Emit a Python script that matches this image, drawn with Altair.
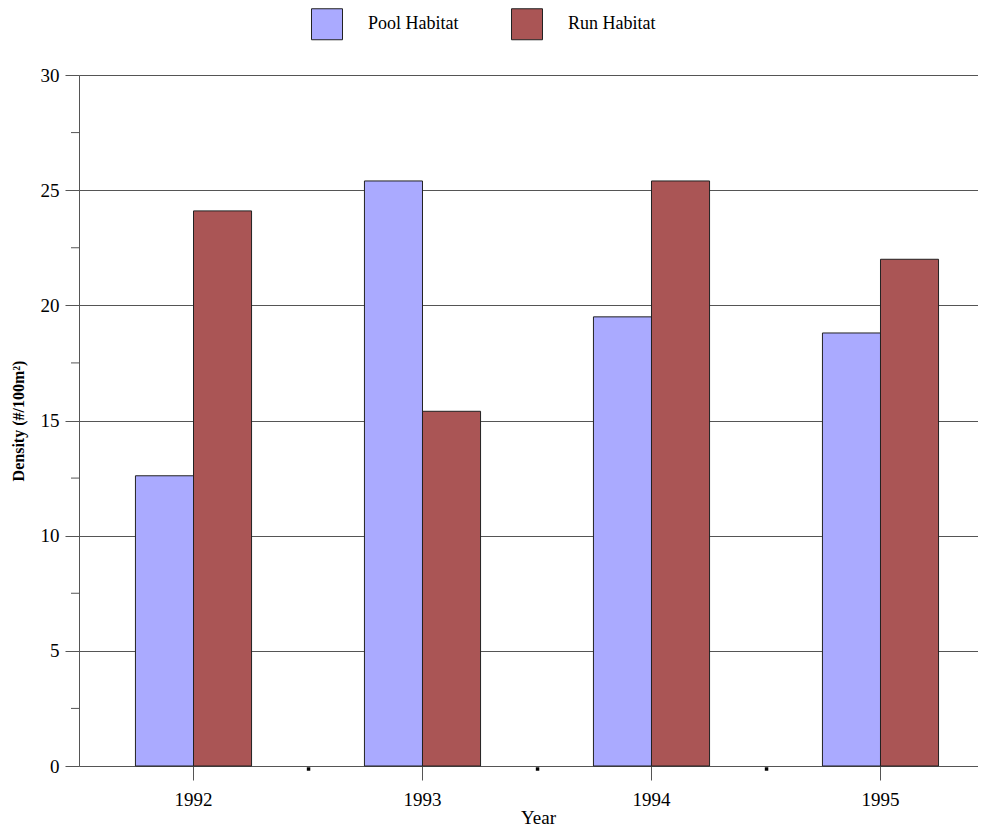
import altair as alt
import pandas as pd

years = ["1992", "1993", "1994", "1995"]
pool = [12.6, 25.4, 19.5, 18.8]
run = [24.1, 15.4, 25.4, 22.0]
series = ["Pool Habitat", "Run Habitat"]
colors = ["#AAAAFF", "#AA5555"]
minor_ticks = [2.5, 7.5, 12.5, 17.5, 22.5, 27.5]
boundary_years = ["1992", "1993", "1994"]

rows = []
for i, y in enumerate(years):
    rows.append({"year": y, "habitat": series[0], "value": pool[i]})
    rows.append({"year": y, "habitat": series[1], "value": run[i]})
df = pd.DataFrame(rows)

W, H = 899, 691
FONT = "Liberation Serif"
GRID = "#555555"

xscale = alt.Scale(domain=years, paddingInner=0.493, paddingOuter=0.2094, align=0.5886)
yscale = alt.Scale(domain=[0, 30], nice=False)

bars = alt.Chart(df).mark_bar(stroke="#222222", strokeWidth=1).encode(
    x=alt.X("year:N", scale=xscale, sort=years,
            axis=alt.Axis(title="Year", labelAngle=0, domain=False, tickSize=14,
                          tickColor=GRID, labelPadding=10, labelFontSize=19,
                          titleFontSize=19, titleFontWeight="normal",
                          titleX=459, titleY=61, titleBaseline="bottom",
                          titlePadding=0, grid=False)),
    xOffset=alt.XOffset("habitat:N", sort=series, scale=alt.Scale(domain=series, paddingInner=0, paddingOuter=0)),
    y=alt.Y("value:Q", scale=yscale,
            axis=alt.Axis(title="Density (#/100m²)", values=[0, 5, 10, 15, 20, 25, 30],
                          tickSize=14, tickColor=GRID, domainColor=GRID,
                          labelFontSize=19, labelPadding=6, grid=True, gridColor=GRID,
                          gridWidth=1, titleFontSize=16, titleFontWeight="bold",
                          titleX=-61, titleY=H / 2, titleBaseline="middle",
                          titleAngle=270)),
    color=alt.Color("habitat:N", scale=alt.Scale(domain=series, range=colors),
                    legend=alt.Legend(title=None, orient="none", direction="horizontal",
                                      legendX=232, legendY=-67, symbolType="square",
                                      symbolSize=961, symbolStrokeColor="#222222",
                                      symbolStrokeWidth=1, symbolOpacity=1,
                                      labelFontSize=18, labelOffset=25,
                                      columnPadding=50, labelFont=FONT)),
)

minor = alt.Chart(pd.DataFrame({"v": minor_ticks})).mark_rule(color=GRID, strokeWidth=1).encode(
    x=alt.value(-8), x2=alt.value(0), y=alt.Y("v:Q", scale=yscale)
)

dots = alt.Chart(pd.DataFrame({"year": boundary_years})).mark_square(
    color="black", size=12, opacity=1, xOffset=57
).encode(
    x=alt.X("year:N", bandPosition=1, scale=xscale, sort=years),
    y=alt.value(H + 3),
)

chart = alt.layer(bars, minor, dots).properties(
    width=W, height=H,
    autosize=alt.AutoSizeParams(type="none"),
    padding={"left": 71, "top": 67, "right": 0, "bottom": 61},
).configure_view(stroke=None).configure(font=FONT)

chart.save("out.html", embed_options={"renderer": "svg", "actions": False})
